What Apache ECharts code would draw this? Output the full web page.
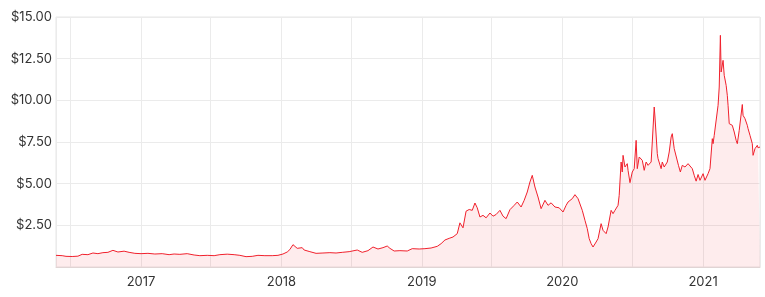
<!DOCTYPE html>
<html>
<head>
<meta charset="utf-8">
<script src="https://cdn.jsdelivr.net/npm/echarts@6/dist/echarts.min.js"></script>
<style>
html,body{margin:0;padding:0;background:#fff;}
#chart{width:765px;height:297px;}
</style>
</head>
<body>
<div id="chart"></div>
<script>
var dates = [
"2016-05-25","2016-06-10","2016-06-20","2016-07-06","2016-07-21","2016-08-01","2016-08-16","2016-08-29","2016-09-11","2016-09-24",
"2016-10-07","2016-10-20","2016-11-02","2016-11-18","2016-12-01","2016-12-16","2017-01-01","2017-01-19","2017-02-06","2017-02-25",
"2017-03-15","2017-03-28","2017-04-12","2017-05-01","2017-05-19","2017-06-03","2017-06-22","2017-07-10","2017-07-25","2017-08-13",
"2017-08-31","2017-09-15","2017-10-01","2017-10-17","2017-11-01","2017-11-19","2017-12-08","2017-12-23","2018-01-05","2018-01-16",
"2018-01-23","2018-01-31","2018-02-11","2018-02-24","2018-03-01","2018-03-16","2018-04-01","2018-04-19","2018-05-07","2018-05-23",
"2018-06-08","2018-06-26","2018-07-17","2018-07-30","2018-08-14","2018-08-27","2018-09-09","2018-09-22","2018-10-03","2018-10-10",
"2018-10-21","2018-11-05","2018-11-24","2018-12-07","2018-12-25","2019-01-09","2019-01-25","2019-02-10","2019-02-20","2019-03-02",
"2019-03-13","2019-03-23","2019-04-03","2019-04-10","2019-04-18","2019-04-26","2019-05-04","2019-05-12","2019-05-19","2019-05-25",
"2019-06-01","2019-06-09","2019-06-17","2019-06-27","2019-07-05","2019-07-13","2019-07-23","2019-07-31","2019-08-08","2019-08-18",
"2019-08-29","2019-09-06","2019-09-16","2019-09-24","2019-10-02","2019-10-09","2019-10-15","2019-10-22","2019-10-30","2019-11-07",
"2019-11-17","2019-11-25","2019-12-03","2019-12-13","2019-12-24","2020-01-03","2020-01-11","2020-01-16","2020-01-27","2020-02-03",
"2020-02-11","2020-02-16","2020-02-22","2020-02-29","2020-03-06","2020-03-11","2020-03-16","2020-03-21","2020-03-29","2020-04-03",
"2020-04-11","2020-04-16","2020-04-24","2020-04-29","2020-05-07","2020-05-12","2020-05-17","2020-05-25","2020-05-28","2020-06-02",
"2020-06-05","2020-06-07","2020-06-12","2020-06-18","2020-06-20","2020-06-25","2020-07-01","2020-07-06","2020-07-11","2020-07-14",
"2020-07-19","2020-07-27","2020-08-01","2020-08-06","2020-08-11","2020-08-19","2020-08-22","2020-08-27","2020-08-29","2020-09-04",
"2020-09-06","2020-09-14","2020-09-17","2020-09-22","2020-09-30","2020-10-05","2020-10-10","2020-10-13","2020-10-18","2020-10-23",
"2020-10-29","2020-11-03","2020-11-08","2020-11-15","2020-11-23","2020-12-04","2020-12-09","2020-12-14","2020-12-19","2020-12-24",
"2021-01-01","2021-01-06","2021-01-14","2021-01-19","2021-01-25","2021-01-27","2021-01-30","2021-02-04","2021-02-09","2021-02-12",
"2021-02-15","2021-02-17","2021-02-22","2021-02-25","2021-03-02","2021-03-05","2021-03-07","2021-03-10","2021-03-15","2021-03-18",
"2021-03-23","2021-03-28","2021-03-31","2021-04-05","2021-04-10","2021-04-13","2021-04-15","2021-04-20","2021-04-26","2021-04-28",
"2021-05-03","2021-05-09","2021-05-11","2021-05-16","2021-05-22","2021-05-24","2021-05-29"
];
var prices = [
0.70,0.68,0.64,0.63,0.65,0.76,0.74,0.84,0.80,0.86,
0.88,1.00,0.90,0.95,0.88,0.82,0.80,0.82,0.78,0.80,
0.74,0.78,0.76,0.80,0.72,0.68,0.70,0.68,0.74,0.77,
0.74,0.70,0.62,0.64,0.70,0.68,0.68,0.70,0.78,0.90,
1.05,1.34,1.12,1.16,1.02,0.92,0.82,0.84,0.86,0.84,
0.88,0.92,1.02,0.88,0.98,1.20,1.08,1.16,1.26,1.12,
0.96,0.98,0.96,1.10,1.08,1.10,1.14,1.24,1.40,1.62,
1.72,1.80,2.00,2.65,2.35,3.35,3.45,3.40,3.84,3.55,
3.00,3.10,2.95,3.24,3.05,3.15,3.40,3.05,2.90,3.44,
3.70,3.90,3.60,4.00,4.50,5.10,5.50,4.80,4.20,3.50,
4.00,3.70,3.85,3.60,3.55,3.30,3.70,3.90,4.10,4.34,
4.10,4.00,3.40,2.80,2.30,1.70,1.40,1.20,1.50,1.70,
2.60,2.20,2.00,2.40,3.40,3.20,3.40,3.70,4.30,6.30,
5.70,6.70,6.00,6.20,5.80,5.06,5.70,5.90,7.60,5.90,
6.60,6.40,5.80,6.30,6.10,6.30,7.50,9.60,9.00,6.80,
6.50,5.90,6.30,6.00,6.30,6.90,7.80,8.00,7.10,7.00,
6.10,5.70,6.10,6.00,6.20,5.90,5.50,5.15,5.55,5.20,
5.60,5.20,5.60,5.90,7.70,7.40,7.90,8.00,9.70,10.80,
13.90,11.70,12.40,11.50,10.90,10.30,9.70,8.60,8.70,8.50,
8.10,7.60,7.40,8.20,8.10,9.75,9.10,8.90,8.50,8.30,
7.90,7.40,6.70,7.10,7.30,7.15,7.20
];
var yTicks = [0, 2.5, 5, 7.5, 10, 12.5, 15];

var seriesData = dates.map(function (d, i) { return [d, prices[i]]; });

var chart = echarts.init(document.getElementById('chart'), null, {renderer: 'canvas'});
chart.setOption({
  animation: false,
  grid: {left: 56, right: 5, top: 17, bottom: 30, show: true, borderColor: '#e6e6e6', borderWidth: 1},
  xAxis: {
    type: 'time',
    min: dates[0],
    max: dates[dates.length - 1],
    splitNumber: 10,
    axisLine: {show: true, lineStyle: {color: '#e0d4d4', width: 1}},
    axisTick: {show: false},
    splitLine: {show: true, lineStyle: {color: '#ebebeb', width: 1}},
    axisLabel: {
      color: '#333',
      fontSize: 13,
      fontFamily: 'Inter, Roboto, sans-serif',
      margin: 9,
      showMinLabel: false,
      showMaxLabel: false,
      formatter: function (val) {
        var dt = new Date(val);
        if (dt.getMonth() === 0 && dt.getDate() === 1) return String(dt.getFullYear());
        return '';
      }
    }
  },
  yAxis: {
    type: 'value',
    min: yTicks[0],
    max: yTicks[yTicks.length - 1],
    interval: yTicks[1] - yTicks[0],
    axisLine: {show: false},
    axisTick: {show: false},
    splitLine: {show: true, lineStyle: {color: '#ebebeb', width: 1}},
    axisLabel: {
      color: '#333',
      fontSize: 13,
      fontFamily: 'Inter, Roboto, sans-serif',
      margin: 4,
      formatter: function (v) { return v === 0 ? '' : '$' + v.toFixed(2); }
    }
  },
  series: [{
    type: 'line',
    data: seriesData,
    showSymbol: false,
    symbol: 'none',
    lineStyle: {color: '#f0202c', width: 1},
    areaStyle: {color: 'rgba(245, 40, 50, 0.12)'}
  }]
});
</script>
</body>
</html>
